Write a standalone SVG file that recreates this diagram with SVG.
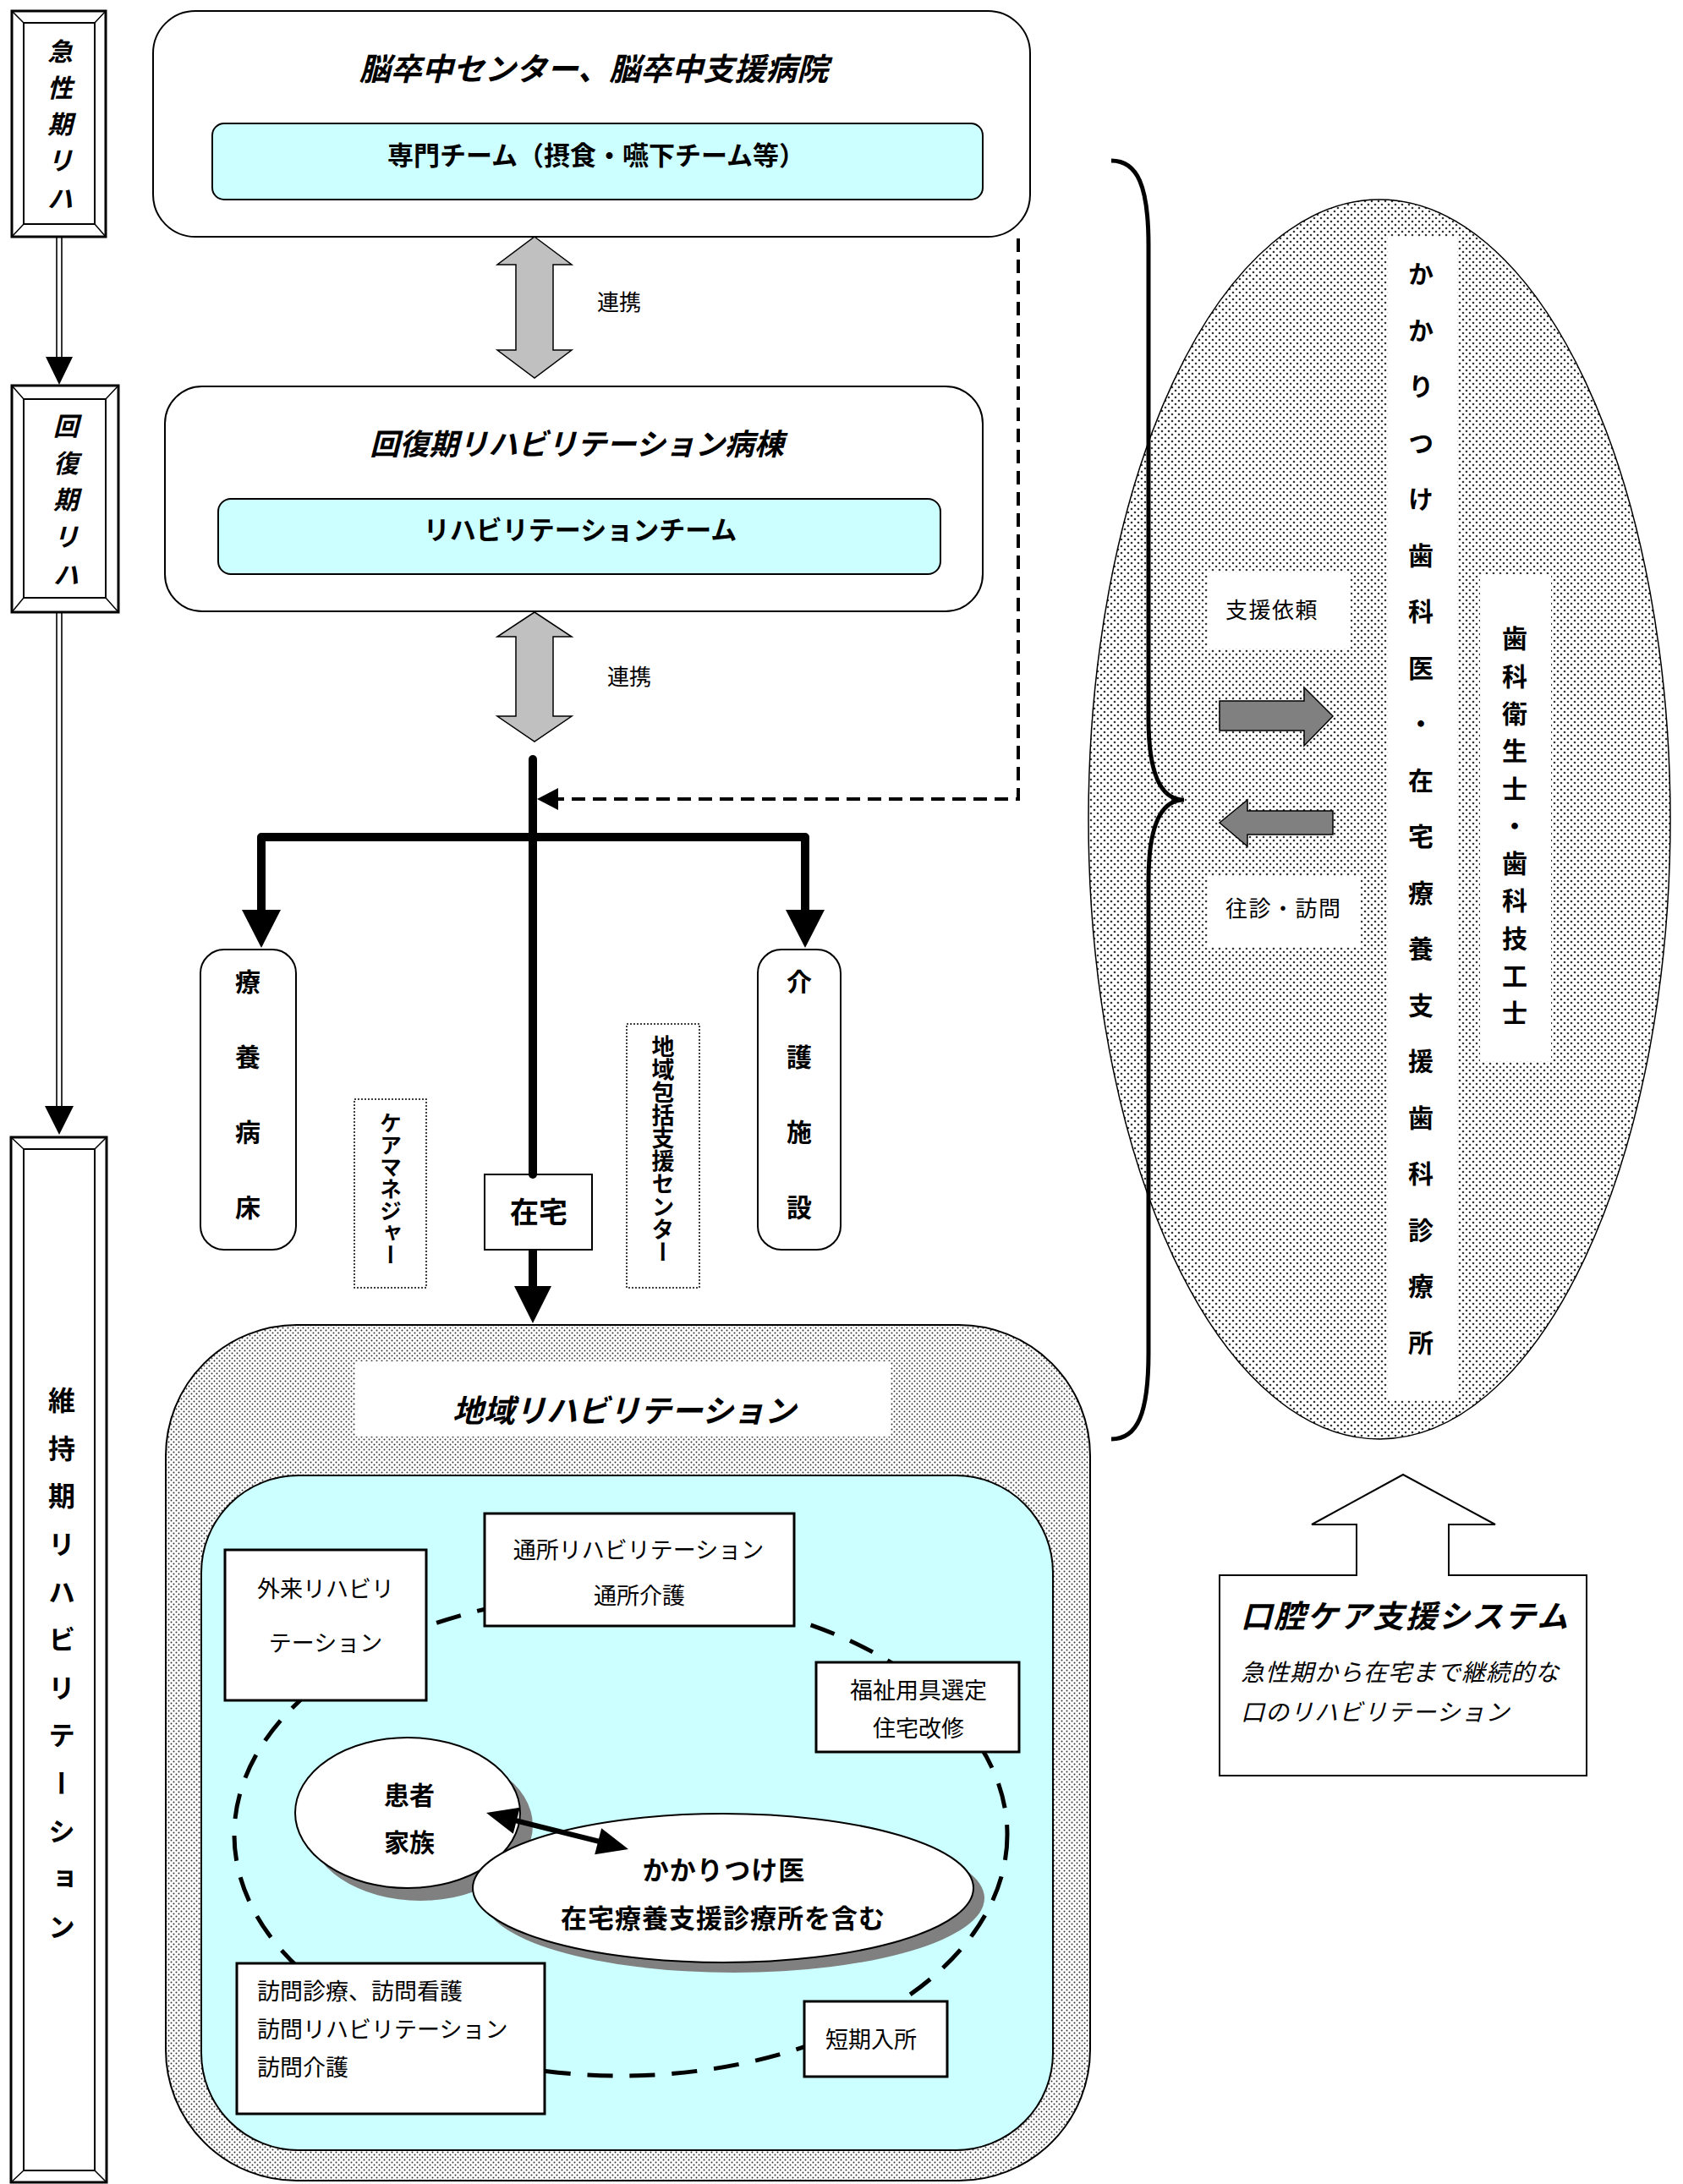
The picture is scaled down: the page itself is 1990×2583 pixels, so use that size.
<svg xmlns="http://www.w3.org/2000/svg" width="1990" height="2583" viewBox="0 0 1990 2583">
<defs>
<style>
text{font-family:"Noto Sans CJK JP","Noto Sans CJK SC",sans-serif;fill:#000}
.b{font-weight:700}
.bi{font-weight:700;font-style:italic}
.it{font-style:italic}
.v{writing-mode:vertical-rl}
.mid{text-anchor:middle}
.ln{fill:none;stroke:#000}
.wbox{fill:#fff;stroke:#000;stroke-width:3}
.rbox{fill:#fff;stroke:#000;stroke-width:2}
.cyan{fill:#ccffff;stroke:#000;stroke-width:2}
.dotb{fill:#fff;stroke:#000;stroke-width:1.5;stroke-dasharray:2 2}
.frame{fill:#fff;stroke:#000;stroke-width:3}
.frame2{fill:none;stroke:#000;stroke-width:2}
.bev{fill:none;stroke:#000;stroke-width:1.5}
.gray2{fill:#c0c0c0;stroke:#000;stroke-width:1.5}
.gray3{fill:#808080;stroke:#000;stroke-width:1.5}
.blk{fill:#000;stroke:none}
.wlabel{fill:#fff;stroke:none}
</style>
<pattern id="dotsA" width="6" height="6" patternUnits="userSpaceOnUse">
<rect width="6" height="6" fill="#fff"/>
<circle cx="1.5" cy="1.5" r="1.0" fill="#333"/>
<circle cx="4.5" cy="4.5" r="1.0" fill="#333"/>
</pattern>
<pattern id="dotsB" width="8" height="8" patternUnits="userSpaceOnUse">
<rect width="8" height="8" fill="#fff"/>
<circle cx="2" cy="2" r="1.3" fill="#333"/>
<circle cx="6" cy="6" r="1.3" fill="#333"/>
</pattern>
</defs>

<rect width="1990" height="2583" fill="#fff"/>

<!-- Stage frames -->
<g id="stage-acute">
<rect x="14" y="13" width="111" height="267" class="frame"/>
<rect x="28" y="27" width="84" height="238" class="frame2"/>
<path d="M14,13 L28,27 M125,13 L112,27 M14,280 L28,265 M125,280 L112,265" class="bev"/>
<text class="bi mid" font-size="30"><tspan x="71" y="72">急</tspan><tspan x="71" y="115">性</tspan><tspan x="71" y="158">期</tspan><tspan x="71" y="201">リ</tspan><tspan x="71" y="246">ハ</tspan></text>
</g>

<g id="stage-recovery">
<rect x="14" y="456" width="126" height="268" class="frame"/>
<rect x="28" y="472" width="97" height="235" class="frame2"/>
<path d="M14,456 L28,472 M140,456 L125,472 M14,724 L28,707 M140,724 L125,707" class="bev"/>
<text class="bi mid" font-size="30"><tspan x="78" y="515">回</tspan><tspan x="78" y="559">復</tspan><tspan x="78" y="602">期</tspan><tspan x="78" y="646">リ</tspan><tspan x="78" y="691">ハ</tspan></text>
</g>

<g id="stage-maintenance">
<rect x="13" y="1345" width="113" height="1236" class="frame"/>
<rect x="28" y="1359" width="84" height="1208" class="frame2"/>
<path d="M13,1345 L28,1359 M126,1345 L112,1359 M13,2581 L28,2567 M126,2581 L112,2567" class="bev"/>
<text class="b v" x="73" y="1640" font-size="32" letter-spacing="24.6">維持期リハビリテーション</text>
</g>

<!-- Acute hospital -->
<g id="node-stroke-center">
<rect x="181" y="13" width="1037" height="267" rx="50" class="rbox"/>
<text class="bi mid" x="702" y="95" font-size="37">脳卒中センター、脳卒中支援病院</text>
<rect x="251" y="146" width="911" height="90" rx="14" class="cyan"/>
<text class="b mid" x="705" y="195" font-size="31">専門チーム（摂食・嚥下チーム等）</text>
</g>

<g id="node-recovery-ward">
<rect x="195" y="457" width="967" height="266" rx="44" class="rbox"/>
<text class="bi mid" x="682" y="538" font-size="35">回復期リハビリテーション病棟</text>
<rect x="258" y="590" width="854" height="89" rx="15" class="cyan"/>
<text class="b mid" x="686" y="638" font-size="31">リハビリテーションチーム</text>
</g>

<g id="node-ryoyo">
<rect x="237" y="1123" width="113" height="355" rx="28" class="rbox"/>
<text class="b v" x="293" y="1146" font-size="30" letter-spacing="59">療養病床</text>
</g>

<g id="node-kaigo">
<rect x="896" y="1123" width="98" height="355" rx="28" class="rbox"/>
<text class="b v" x="945" y="1146" font-size="30" letter-spacing="59">介護施設</text>
</g>

<g id="node-caremanager">
<rect x="419" y="1300" width="85" height="223" class="dotb"/>
<text class="b v" x="462" y="1315" font-size="26">ケアマネジャー</text>
</g>

<g id="node-houkatsu">
<rect x="741" y="1211" width="86" height="312" class="dotb"/>
<text class="b v" x="784" y="1224" font-size="27">地域包括支援センター</text>
</g>

<g id="node-zaitaku">
<rect x="573" y="1389" width="127" height="89" class="rbox"/>
<text class="b mid" x="637" y="1446" font-size="34">在宅</text>
</g>

<!-- Community rehab region -->
<g id="node-community">
<rect x="196" y="1567" width="1093" height="1012" rx="155" fill="url(#dotsA)" stroke="#000" stroke-width="2"/>
<rect x="420" y="1610" width="633" height="89" class="wlabel"/>
<text class="bi mid" x="738" y="1682" font-size="37">地域リハビリテーション</text>
<rect x="238" y="1745" width="1007" height="798" rx="115" class="cyan"/>
<ellipse cx="734" cy="2170" rx="457" ry="285" fill="none" stroke="#000" stroke-width="5" stroke-dasharray="30 20"/>
</g>

<g id="node-gairai">
<rect x="266" y="1833" width="238" height="178" class="wbox"/>
<text class="mid" x="385" y="1889" font-size="27">外来リハビリ</text>
<text class="mid" x="385" y="1953" font-size="27">テーション</text>
</g>

<g id="node-tsusho">
<rect x="573" y="1790" width="366" height="133" class="wbox"/>
<text class="mid" x="755" y="1843" font-size="27">通所リハビリテーション</text>
<text class="mid" x="756" y="1897" font-size="27">通所介護</text>
</g>

<g id="node-fukushi">
<rect x="965" y="1966" width="240" height="106" class="wbox"/>
<text class="mid" x="1086" y="2009" font-size="27">福祉用具選定</text>
<text class="mid" x="1086" y="2054" font-size="27">住宅改修</text>
</g>

<g id="node-houmon">
<rect x="280" y="2322" width="364" height="178" class="wbox"/>
<text x="304" y="2365" font-size="27">訪問診療、訪問看護</text>
<text x="304" y="2410" font-size="27">訪問リハビリテーション</text>
<text x="304" y="2455" font-size="27">訪問介護</text>
</g>

<g id="node-tanki">
<rect x="951" y="2367" width="169" height="89" class="wbox"/>
<text class="mid" x="1030" y="2422" font-size="27">短期入所</text>
</g>

<g id="node-patient">
<ellipse cx="497" cy="2159" rx="133" ry="89" fill="#808080"/>
<ellipse cx="482" cy="2144" rx="133" ry="89" fill="#fff" stroke="#000" stroke-width="2"/>
<text class="b mid" x="484" y="2134" font-size="30">患者</text>
<text class="b mid" x="484" y="2190" font-size="30">家族</text>
</g>

<g id="node-kakaritsuke">
<ellipse cx="868" cy="2245" rx="296" ry="88" fill="#808080"/>
<ellipse cx="855" cy="2233" rx="296" ry="88" fill="#fff" stroke="#000" stroke-width="2"/>
<text class="b mid" x="856" y="2223" font-size="31" letter-spacing="1">かかりつけ医</text>
<text class="b mid" x="855" y="2280" font-size="31" letter-spacing="1">在宅療養支援診療所を含む</text>
</g>

<!-- Dental ellipse -->
<g id="node-dental">
<ellipse cx="1631" cy="969" rx="344" ry="733" fill="url(#dotsB)" stroke="#000" stroke-width="1.5"/>
<rect x="1641" y="280" width="82" height="1376" class="wlabel"/>
<text class="b v" x="1680" y="309" font-size="30" letter-spacing="36.5">かかりつけ歯科医・在宅療養支援歯科診療所</text>
<rect x="1750" y="679" width="84" height="576" class="wlabel"/>
<text class="b v" x="1791" y="740" font-size="30" letter-spacing="14.3">歯科衛生士・歯科技工士</text>
<rect x="1428" y="677" width="169" height="90" class="wlabel"/>
<text x="1449" y="731" font-size="26" letter-spacing="1.5">支援依頼</text>
<rect x="1428" y="1036" width="181" height="84" class="wlabel"/>
<text x="1449" y="1084" font-size="26" letter-spacing="1.5">往診・訪問</text>
</g>

<g id="node-oralcare">
<polygon points="1442,1863 1604,1863 1604,1803 1551,1803 1659,1744 1768,1803 1713,1803 1713,1863 1876,1863 1876,2100 1442,2100" fill="#fff" stroke="#000" stroke-width="2"/>
<text class="bi" x="1467" y="1925" font-size="37" letter-spacing="2">口腔ケア支援システム</text>
<text class="it" x="1467" y="1988" font-size="28" letter-spacing="1">急性期から在宅まで継続的な</text>
<text class="it" x="1467" y="2035" font-size="28" letter-spacing="1">口のリハビリテーション</text>
</g>

<!-- Connectors -->
<g id="connectors">
<path d="M67,280 L67,424 M73,280 L73,424" class="ln" stroke-width="1.6"/>
<polygon points="54,422 86,422 70,455" class="blk"/>
<path d="M67,724 L67,1310 M73,724 L73,1310" class="ln" stroke-width="1.6"/>
<polygon points="53,1308 87,1308 70,1342" class="blk"/>

<polygon points="632,280 676,313 654,313 654,414 676,414 632,447 588,414 610,414 610,313 588,313" class="gray2"/>
<text x="706" y="367" font-size="26">連携</text>
<polygon points="632,724 676,753 654,753 654,847 676,847 632,877 588,847 610,847 610,753 588,753" class="gray2"/>
<text x="718" y="810" font-size="26">連携</text>

<path d="M630,898 L630,1389" class="ln" stroke-width="10" stroke-linecap="round"/>
<path d="M630,1478 L630,1525" class="ln" stroke-width="10"/>
<polygon points="608,1521 652,1521 630,1565" class="blk"/>
<path d="M309,1078 L309,990 L952,990 L952,1078" class="ln" stroke-width="10" stroke-linejoin="round"/>
<polygon points="286,1076 332,1076 309,1121" class="blk"/>
<polygon points="929,1076 975,1076 952,1121" class="blk"/>

<path d="M1204,282 L1204,945 L658,945" class="ln" stroke-width="4" stroke-dasharray="16 9"/>
<polygon points="635,945 660,932 660,958" class="blk"/>

<path d="M609,2153 L709,2178" class="ln" stroke-width="6"/>
<polygon points="575,2144 606.8,2168.7 614.8,2137.7" class="blk"/>
<polygon points="743,2187 703.2,2193.3 711.2,2162.3" class="blk"/>

<polygon points="1442,829 1542,829 1542,813 1576,847 1542,882 1542,864 1442,864" class="gray3"/>
<polygon points="1442,973 1475,946 1475,959 1576,959 1576,987 1475,987 1475,1001" class="gray3"/>

<path d="M1314,190 C1345,190 1358,220 1358,290 L1358,850 C1358,920 1375,946 1400,946 C1375,946 1358,972 1358,1042 L1358,1600 C1358,1672 1345,1702 1314,1702" class="ln" stroke-width="5"/>
</g>
</svg>
